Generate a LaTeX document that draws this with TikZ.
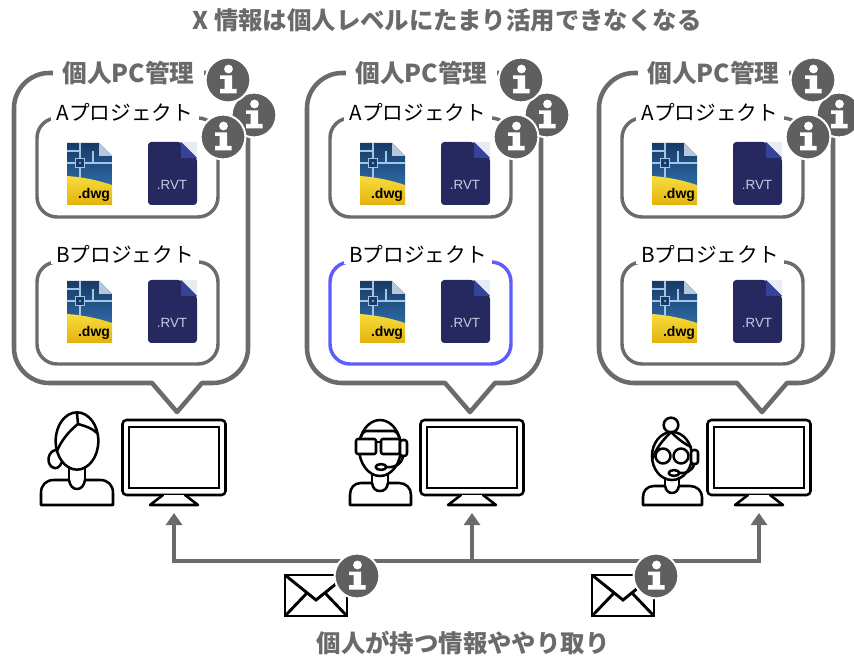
\documentclass[tikz,border=0pt]{standalone}
\usepackage{fontspec}
\setmainfont{Noto Sans CJK JP}
\newfontfamily\iconsans{Liberation Sans}
\usetikzlibrary{arrows.meta}

\definecolor{linegray}{HTML}{6B6B6B}
\definecolor{infogray}{HTML}{5F5F5F}
\definecolor{txtgray}{HTML}{6A6A6A}
\definecolor{boxblue}{HTML}{5C5CFF}
\definecolor{dwgblueA}{HTML}{173A66}
\definecolor{dwgblueB}{HTML}{2E6CA8}
\definecolor{dwgyelA}{HTML}{F8DC3C}
\definecolor{dwgyelB}{HTML}{E2B20E}
\definecolor{dwggrid}{HTML}{A4C6E6}
\definecolor{dwgfold}{HTML}{B8C8DA}
\definecolor{rvtnavy}{HTML}{25295F}
\definecolor{rvtfold}{HTML}{34429A}
\definecolor{rvtcorner}{HTML}{E7ECF3}
\definecolor{rvttext}{HTML}{C8CCE4}

\tikzset{
  outerline/.style={draw=linegray, line width=3.4pt, line join=round},
  projbox/.style={line width=2.6pt, rounded corners=15pt},
  pctitle/.style={fill=white, text=txtgray, inner xsep=7pt, inner ysep=1pt,
    font=\bfseries\fontsize{18.5}{20}\selectfont},
  projtitle/.style={fill=white, text=black, inner xsep=4pt, inner ysep=1pt,
    font=\fontsize{15.5}{17}\selectfont},
  headline/.style={text=txtgray, font=\bfseries\fontsize{18.3}{20}\selectfont},
  personline/.style={draw=black, line width=1.9pt, line join=round, line cap=round},
  monitor/.style={draw=black, fill=white, line width=1.9pt, rounded corners=3pt,
    minimum width=77.25pt, minimum height=56.25pt, inner sep=0pt},
  screen/.style={draw=black, line width=1.1pt, minimum width=67.5pt,
    minimum height=45.75pt, inner sep=0pt},
  busline/.style={draw=linegray, line width=3.6pt},
  bustip/.style={-{Triangle[width=12pt,length=9pt]}},
  envline/.style={draw=black, line width=2.2pt, line join=miter},
  % information badge: grey disc with a white serif "i"
  info/.pic={
    \fill[infogray, draw=white, line width=1.5pt] (0,0) circle[radius=16.8pt];
    \fill[white] (0.5,-11) circle[radius=3.3pt];
    \fill[white] (-8,-4.5) -- (4,-4.5) -- (4,9) -- (8.5,9) -- (8.5,13.5)
      -- (-8,13.5) -- (-8,9) -- (-3.5,9) -- (-3.5,-1) -- (-8,-1) -- cycle;
  },
  % AutoCAD drawing file
  dwg/.pic={
    \begin{scope}
      \clip (0,0) -- (32,0) -- (45,13) -- (45,62) -- (0,62) -- cycle;
      \shade[top color=dwgblueA, bottom color=dwgblueB] (0,0) rectangle (45,44);
      \shade[top color=dwgyelA, bottom color=dwgyelB]
        (0,33) .. controls (15,34) and (30,37) .. (45,42) -- (45,62) -- (0,62) -- cycle;
      \draw[dwggrid, line width=1pt] (13,0) -- (13,35) (0,20) -- (45,20)
        (0,8) -- (13,8) (26,8) -- (26,20);
      \draw[dwggrid, line width=1.2pt, fill=dwgblueA] (8.5,15.5) rectangle (17.5,24.5);
      \fill[dwggrid] (13,20) circle[radius=0.8pt];
    \end{scope}
    \fill[dwgfold] (32,0) -- (45,13) -- (32,13) -- cycle;
    \node[inner sep=0pt, font=\iconsans\bfseries\fontsize{10.5}{11}\selectfont]
      (ext) at (27,52) {.dwg};
  },
  % Revit project file
  rvt/.pic={
    \fill[rvtnavy, rounded corners=2.5pt] (0,0) -- (33,0) -- (49,16) -- (49,63)
      -- (0,63) -- cycle;
    \fill[rvtcorner] (33,0) -- (49,0) -- (49,16) -- cycle;
    \fill[rvtfold] (33,0) -- (49,16) -- (33,16) -- cycle;
    \node[inner sep=0pt, text=rvttext, font=\iconsans\fontsize{10}{11}\selectfont]
      (ext) at (24,43) {.RVT};
  },
  % envelope
  mail/.pic={
    \draw[envline, fill=white] (0,0) rectangle (62,41);
    \draw[envline] (0,0) -- (31,25) -- (62,0);
    \draw[envline] (0,41) -- (22,18) (62,41) -- (40,18);
  }
}

\begin{document}
\begin{tikzpicture}[x=0.75pt, y=-0.75pt]
\useasboundingbox (0,0) rectangle (854,659);

% heading
\node[headline] (title) at (447,20) {X 情報は個人レベルにたまり活用できなくなる};

% three personal computers, each a speech bubble with two projects
\foreach \dx/\bcol [count=\k] in {0/linegray, 293/boxblue, 585/linegray} {
  \begin{scope}[shift={(\dx,0)}]
    \draw[outerline] (49,73) .. controls (30,73) and (14,89) .. (14,108)
      -- (14,348) .. controls (14,367) and (30,383) .. (49,383)
      -- (152,383) -- (177,412) -- (202,383)
      -- (213,383) .. controls (232,383) and (248,367) .. (248,348)
      -- (248,108) .. controls (248,89) and (232,73) .. (213,73) -- cycle;
    \draw[projbox, draw=linegray] (37,118) rectangle (218,217);
    \draw[projbox, draw=\bcol] (37,262) rectangle (218,364);
    \node[pctitle] (pc\k) at (128.5,73) {個人PC管理};
    \node[projtitle] (pa\k) at (125,112) {Aプロジェクト};
    \node[projtitle] (pb\k) at (125,254) {Bプロジェクト};
    \pic at (67,143) {dwg};
    \pic at (148,142) {rvt};
    \pic at (67,281) {dwg};
    \pic at (148,280) {rvt};
    \pic at (254,115) {info};
    \pic at (228,80) {info};
    \pic at (223,137) {info};
  \end{scope}
}

% monitors
\foreach \mx [count=\k] in {174,472,759} {
  \node[monitor] (mon\k) at (\mx,457.5) {};
  \node[screen] (scr\k) at (mon\k) {};
  \draw[personline, fill=white] (\mx-11,495) -- (\mx-24,505) -- (\mx+24,505)
    -- (\mx+11,495);
  \coordinate (bus\k) at (\mx,561);
  \coordinate (tip\k) at (\mx,513);
}

% exchange lines between the computers
\draw[busline, {Triangle[width=12pt,length=9pt]}-{Triangle[width=12pt,length=9pt]}]
  (tip1) -- (bus1) -- (bus3) -- (tip3);
\draw[busline, bustip] (bus2) -- (tip2);

% person 1
\begin{scope}[shift={(77,441)}]
  \draw[personline] (-21,9) .. controls (-29,10) and (-31,22) .. (-25,26)
    .. controls (-21,29) and (-17,26) .. (-15,21);
  \draw[personline, fill=white] (0,0) ellipse[x radius=16pt, y radius=21.5pt];
  \draw[personline] (0,-28) -- (1,-17);
  \draw[personline] (1,-17) .. controls (-8,-10) and (-16,0) .. (-20,10);
  \draw[personline] (1,-17) .. controls (8,-15) and (15,-13) .. (20,-8);
  \draw[personline] (-8,26) -- (-8,39) (8,26) -- (8,39);
  \draw[personline] (-36,64) -- (-36,52) .. controls (-36,44) and (-31,39) .. (-23,39)
    -- (-8,39) .. controls (-7,45) and (-4,48) .. (0,48)
    .. controls (4,48) and (7,45) .. (8,39) -- (23,39)
    .. controls (31,39) and (36,44) .. (36,52) -- (36,64) -- cycle;
\end{scope}

% person 2
\begin{scope}[shift={(380,448)}]
  \draw[personline, fill=white] (0,0) ellipse[x radius=15.75pt, y radius=21pt];
  \draw[personline] (-20,-8) .. controls (-19,-13) and (-17,-16) .. (-14,-17)
    -- (14,-17) .. controls (17,-16) and (19,-13) .. (20,-8);
  \draw[personline, fill=white, rounded corners=1.5pt] (-24,-9) rectangle (-4,6);
  \draw[personline, fill=white, rounded corners=1.5pt] (1,-9) rectangle (20,6);
  \draw[personline] (-4,-6) -- (1,-6);
  \draw[personline, fill=white, rounded corners=2pt] (20,-8) rectangle (27,8);
  \draw[personline] (23,8) .. controls (22,17) and (13,20) .. (6,19);
  \draw[personline, fill=white] (1,19) ellipse[x radius=4pt, y radius=2.2pt];
  \draw[personline] (-8,27) -- (-8,35) (8,27) -- (8,35);
  \draw[personline] (-30,57) -- (-30,47) .. controls (-30,40) and (-26,35) .. (-19,35)
    -- (-8,35) .. controls (-7,41) and (-4,43) .. (0,43)
    .. controls (4,43) and (7,41) .. (8,35) -- (19,35)
    .. controls (26,35) and (31,40) .. (31,47) -- (31,57) -- cycle;
\end{scope}

% person 3
\begin{scope}[shift={(672,456)}]
  \draw[personline, fill=white] (-1,-31) circle[radius=5.5pt];
  \draw[personline, fill=white] (0,0) ellipse[x radius=15pt, y radius=18pt];
  \draw[personline] (-1,-24) .. controls (-9,-16) and (-16,-8) .. (-19,2);
  \draw[personline] (-1,-24) .. controls (5,-18) and (11,-13) .. (19,-9);
  \draw[personline, fill=white] (-9,0) circle[radius=5.6pt];
  \draw[personline, fill=white] (9,0) circle[radius=5.6pt];
  \draw[personline, fill=white, rounded corners=2pt] (19,-6) rectangle (26,8);
  \draw[personline] (22,8) .. controls (21,15) and (13,18) .. (7,17);
  \draw[personline, fill=white] (2,17) ellipse[x radius=4pt, y radius=2.2pt];
  \draw[personline] (-7,22) -- (-7,30) (7,22) -- (7,30);
  \draw[personline] (-29,49) -- (-29,41) .. controls (-29,35) and (-25,30) .. (-18,30)
    -- (-7,30) .. controls (-6,35) and (-3,37) .. (0,37)
    .. controls (3,37) and (6,35) .. (7,30) -- (18,30)
    .. controls (25,30) and (30,35) .. (30,41) -- (30,49) -- cycle;
\end{scope}

% messages passed between the people
\pic at (285,575) {mail};
\pic at (592,575) {mail};
\pic at (357,576) {info};
\pic at (656,576) {info};

\node[headline] (caption) at (463,643) {個人が持つ情報ややり取り};
\end{tikzpicture}
\end{document}
